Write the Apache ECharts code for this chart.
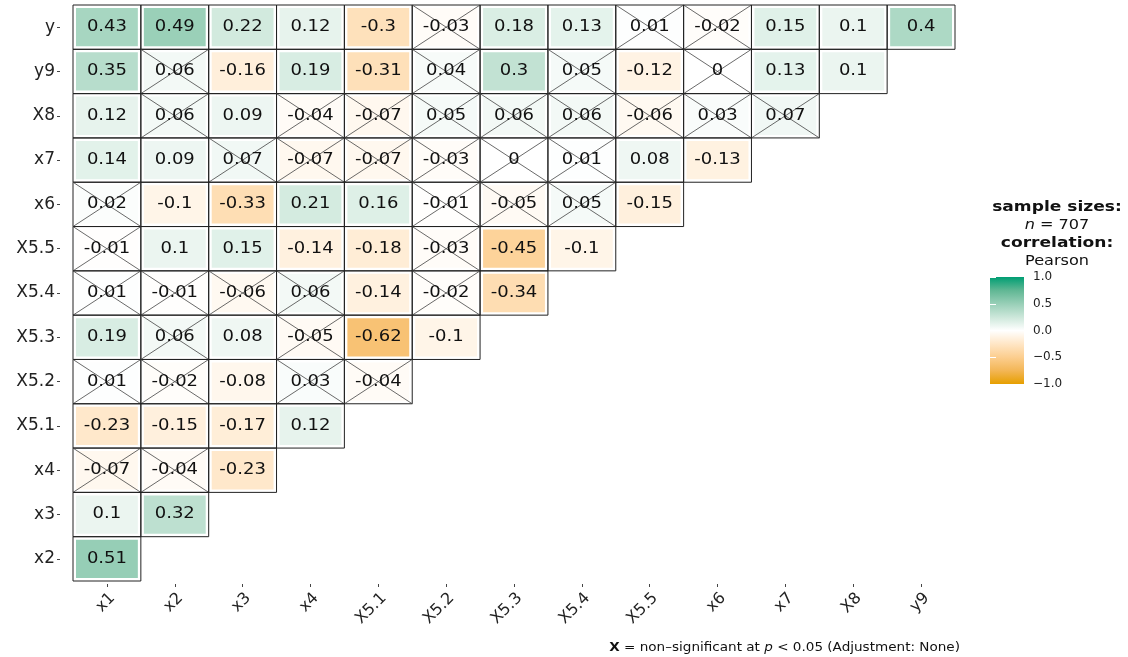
<!DOCTYPE html>
<html>
<head>
<meta charset="utf-8">
<script src="https://cdn.jsdelivr.net/npm/echarts@6/dist/echarts.min.js"></script>
<style>html,body{margin:0;padding:0;background:#fff;}#c{width:1128px;height:657px;}</style>
</head>
<body>
<div id="c"></div>
<script>
// Row labels (top to bottom) and column labels (left to right)
const rowLabels = ['y','y9','X8','x7','x6','X5.5','X5.4','X5.3','X5.2','X5.1','x4','x3','x2'];
const colLabels = ['x1','x2','x3','x4','X5.1','X5.2','X5.3','X5.4','X5.5','x6','x7','X8','y9'];

// Correlation values per row (starting from column x1)
const r_y    = [0.43, 0.49, 0.22, 0.12, -0.3, -0.03, 0.18, 0.13, 0.01, -0.02, 0.15, 0.1, 0.4];
const r_y9   = [0.35, 0.06, -0.16, 0.19, -0.31, 0.04, 0.3, 0.05, -0.12, 0, 0.13, 0.1];
const r_X8   = [0.12, 0.06, 0.09, -0.04, -0.07, 0.05, 0.06, 0.06, -0.06, 0.03, 0.07];
const r_x7   = [0.14, 0.09, 0.07, -0.07, -0.07, -0.03, 0, 0.01, 0.08, -0.13];
const r_x6   = [0.02, -0.1, -0.33, 0.21, 0.16, -0.01, -0.05, 0.05, -0.15];
const r_X5_5 = [-0.01, 0.1, 0.15, -0.14, -0.18, -0.03, -0.45, -0.1];
const r_X5_4 = [0.01, -0.01, -0.06, 0.06, -0.14, -0.02, -0.34];
const r_X5_3 = [0.19, 0.06, 0.08, -0.05, -0.62, -0.1];
const r_X5_2 = [0.01, -0.02, -0.08, 0.03, -0.04];
const r_X5_1 = [-0.23, -0.15, -0.17, 0.12];
const r_x4   = [-0.07, -0.04, -0.23];
const r_x3   = [0.1, 0.32];
const r_x2   = [0.51];

// Significance flags (1 = significant, 0 = crossed out)
const s_y    = [1,1,1,1,1,0,1,1,0,0,1,1,1];
const s_y9   = [1,0,1,1,1,0,1,0,1,0,1,1];
const s_X8   = [1,0,1,0,0,0,0,0,0,0,0];
const s_x7   = [1,1,0,0,0,0,0,0,1,1];
const s_x6   = [0,1,1,1,1,0,0,0,1];
const s_X5_5 = [0,1,1,1,1,0,1,1];
const s_X5_4 = [0,0,0,0,1,0,1];
const s_X5_3 = [1,0,1,0,1,1];
const s_X5_2 = [0,0,1,0,0];
const s_X5_1 = [1,1,1,1];
const s_x4   = [0,0,1];
const s_x3   = [1,1];
const s_x2   = [1];

// Legend colorbar tick values
const legendTicks = [-1, -0.5, 0, 0.5, 1];

// Diverging palette (-1 .. 1), Lab-interpolated between #E69F00, white, #009E73
const palette = ['#E69F00', '#F3B656', '#FCCE8F', '#FFE6C6', '#FFFFFF', '#CCE7DA', '#98CFB7', '#60B794', '#009E73'];

const rowValues = [r_y, r_y9, r_X8, r_x7, r_x6, r_X5_5, r_X5_4, r_X5_3, r_X5_2, r_X5_1, r_x4, r_x3, r_x2];
const rowSig = [s_y, s_y9, s_X8, s_x7, s_x6, s_X5_5, s_X5_4, s_X5_3, s_X5_2, s_X5_1, s_x4, s_x3, s_x2];

const data = [];
rowValues.forEach((vals, ri) => {
  vals.forEach((v, ci) => data.push([ci, ri, v, rowSig[ri][ci]]));
});

const FONT = 'DejaVu Sans';
const chart = echarts.init(document.getElementById('c'));

const gradStops = palette.slice().reverse().map((c, i, a) => ({offset: i / (a.length - 1), color: c}));

const option = {
  backgroundColor: '#ffffff',
  animation: false,
  grid: [
    {left: 73, top: 5, width: 882, height: 576},
    {left: 990, top: 277, width: 34, height: 107, show: true, borderWidth: 0,
     backgroundColor: {type: 'linear', x: 0, y: 0, x2: 0, y2: 1, colorStops: gradStops}}
  ],
  xAxis: [
    {type: 'category', gridIndex: 0, data: colLabels, position: 'bottom', offset: 3,
     axisLine: {show: false},
     axisTick: {show: true, alignWithLabel: true, length: 3, lineStyle: {color: '#444'}},
     axisLabel: {rotate: 45, margin: 6, fontSize: 16, fontFamily: FONT, color: '#222', interval: 0, verticalAlign: 'top'},
     splitLine: {show: false}},
    {type: 'value', gridIndex: 1, show: false}
  ],
  yAxis: [
    {type: 'category', gridIndex: 0, data: rowLabels, inverse: true, offset: 13,
     axisLine: {show: false},
     axisTick: {show: true, alignWithLabel: true, length: 3, lineStyle: {color: '#444'}},
     axisLabel: {margin: 5, fontSize: 17, fontFamily: FONT, color: '#222', interval: 0},
     splitLine: {show: false}},
    {type: 'value', gridIndex: 1, position: 'right', min: legendTicks[0], max: legendTicks[legendTicks.length - 1], interval: 0.5,
     axisLine: {show: false},
     axisTick: {show: true, inside: true, length: 6, lineStyle: {color: '#ffffff', width: 1}},
     axisLabel: {margin: 9, fontSize: 12, fontFamily: FONT, color: '#222',
       formatter: v => (v < 0 ? '\u2212' : '') + Math.abs(v).toFixed(1)},
     splitLine: {show: false}},
    {type: 'value', gridIndex: 1, position: 'left', min: legendTicks[0], max: legendTicks[legendTicks.length - 1], interval: 0.5,
     axisLine: {show: false},
     axisTick: {show: true, inside: true, length: 6, lineStyle: {color: '#ffffff', width: 1}},
     axisLabel: {show: false},
     splitLine: {show: false}}
  ],
  visualMap: {show: false, type: 'continuous', seriesIndex: 0, dimension: 2, min: -1, max: 1,
    inRange: {color: palette}},
  series: [{
    type: 'custom',
    coordinateSystem: 'cartesian2d',
    xAxisIndex: 0, yAxisIndex: 0,
    data: data,
    renderItem: function (params, api) {
      const c = api.coord([api.value(0), api.value(1)]);
      const s = api.size([1, 1]);
      const w = s[0], h = s[1];
      const x0 = c[0] - w / 2, y0 = c[1] - h / 2;
      const v = api.value(2);
      const sig = api.value(3);
      const children = [
        {type: 'rect', shape: {x: x0 + 3, y: y0 + 3, width: w - 6, height: h - 6}, style: {fill: api.visual('color')}},
        {type: 'rect', shape: {x: x0, y: y0, width: w, height: h}, style: {fill: 'none', stroke: '#222', lineWidth: 1}}
      ];
      if (!sig) {
        children.push({type: 'line', shape: {x1: x0, y1: y0, x2: x0 + w, y2: y0 + h}, style: {stroke: '#444', lineWidth: 0.8}});
        children.push({type: 'line', shape: {x1: x0, y1: y0 + h, x2: x0 + w, y2: y0}, style: {stroke: '#444', lineWidth: 0.8}});
      }
      children.push({type: 'text', x: c[0], y: c[1], scaleX: 1.2,
        style: {text: String(v), fontSize: 15, fontFamily: FONT, fill: '#111', align: 'center', verticalAlign: 'middle'}});
      return {type: 'group', children: children};
    }
  }],
  graphic: [
    {type: 'text', x: 1057, y: 207, scaleX: 1.22, style: {text: 'sample sizes:', fontSize: 14, fontWeight: 'bold', fontFamily: FONT, fill: '#111', align: 'center', verticalAlign: 'middle'}},
    {type: 'text', x: 1057, y: 225, scaleX: 1.15, style: {text: '{i|n} = 707', fontSize: 14, fontFamily: FONT, fill: '#111', align: 'center', verticalAlign: 'middle',
      rich: {i: {fontStyle: 'italic', fontSize: 14, fontFamily: FONT, fill: '#111'}}}},
    {type: 'text', x: 1057, y: 243, scaleX: 1.22, style: {text: 'correlation:', fontSize: 14, fontWeight: 'bold', fontFamily: FONT, fill: '#111', align: 'center', verticalAlign: 'middle'}},
    {type: 'text', x: 1057, y: 261, scaleX: 1.15, style: {text: 'Pearson', fontSize: 14, fontFamily: FONT, fill: '#111', align: 'center', verticalAlign: 'middle'}},
    {type: 'text', x: 960, y: 648, scaleX: 1.13, style: {text: '{b|X} = non\u2013significant at {i|p} < 0.05 (Adjustment: None)', fontSize: 12, fontFamily: FONT, fill: '#111', align: 'right', verticalAlign: 'middle',
      rich: {b: {fontWeight: 'bold', fontSize: 12, fontFamily: FONT, fill: '#111'}, i: {fontStyle: 'italic', fontSize: 12, fontFamily: FONT, fill: '#111'}}}}
  ]
};
chart.setOption(option);
</script>
</body>
</html>
